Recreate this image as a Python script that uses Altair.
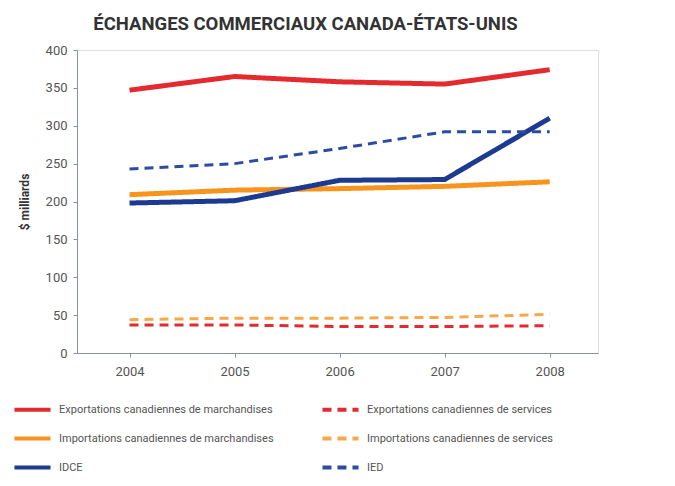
import altair as alt
import pandas as pd

years = [2004, 2005, 2006, 2007, 2008]
series_names = [
    "Exportations canadiennes de marchandises",
    "Exportations canadiennes de services",
    "Importations canadiennes de marchandises",
    "Importations canadiennes de services",
    "IDCE",
    "IED",
]
export_merch = [347, 365, 358, 355, 374]
export_serv = [37, 37, 35, 35, 36]
import_merch = [209, 215, 217, 220, 226]
import_serv = [44, 46, 46, 47, 51]
idce = [198, 201, 228, 229, 310]
ied = [243, 250, 270, 292, 292]

colors = ["#e42a2e", "#e42a2e", "#f7941d", "#f7a94a", "#1d3a92", "#2c4ba3"]
dashes = [[1, 0], [9, 6], [1, 0], [9, 6], [1, 0], [9, 6]]
solid_set = {series_names[0], series_names[2], series_names[4]}

all_vals = [export_merch, export_serv, import_merch, import_serv, idce, ied]
rows = []
for name, vals in zip(series_names, all_vals):
    for y, v in zip(years, vals):
        rows.append({"serie": name, "annee": y, "valeur": v,
                     "solid": name in solid_set})
df = pd.DataFrame(rows)

FONT = "Roboto, Liberation Sans, sans-serif"

x = alt.X("annee:Q", scale=alt.Scale(domain=[2003.5, 2008.46], nice=False, zero=False),
          axis=alt.Axis(values=years, format="d", title=None, grid=False,
                        labelFontSize=13, labelColor="#555", labelPadding=8,
                        domainColor="#8a8fa8", tickColor="#8a8fa8", tickSize=4,
                        labelFont=FONT))
y = alt.Y("valeur:Q", scale=alt.Scale(domain=[0, 400], nice=False),
          axis=alt.Axis(values=list(range(0, 401, 50)), title="$ milliards", grid=False,
                        labelFontSize=13, labelColor="#555", labelPadding=6,
                        titleFontSize=12, titleColor="#333", titleFont=FONT,
                        titleFontWeight="bold", titlePadding=14,
                        domainColor="#8a8fa8", tickColor="#8a8fa8", tickSize=4,
                        labelFont=FONT))
color = alt.Color("serie:N", scale=alt.Scale(domain=series_names, range=colors),
                  legend=alt.Legend(title=None, orient="none", legendX=-65, legendY=339,
                                    direction="horizontal", columns=2,
                                    symbolType="stroke", symbolSize=1300,
                                    symbolStrokeWidth=4, labelFontSize=11,
                                    labelColor="#555", labelFont=FONT,
                                    columnPadding=40, rowPadding=0, symbolOffset=0,
                                    labelOffset=6, labelLimit=400))
dash = alt.StrokeDash("serie:N", scale=alt.Scale(domain=series_names, range=dashes))

base = alt.Chart(df).encode(x=x, y=y, color=color, strokeDash=dash)
solid = base.transform_filter("datum.solid").mark_line(strokeWidth=5, strokeJoin="round")
dashed = base.transform_filter("!datum.solid").mark_line(strokeWidth=3, strokeJoin="round")

chart = alt.layer(solid, dashed).properties(
    width=521, height=303,
    autosize=alt.AutoSizeParams(type="none"),
    padding={"left": 69, "top": 42, "right": 69, "bottom": 125},
    title=alt.TitleParams("ÉCHANGES COMMERCIAUX CANADA-ÉTATS-UNIS", anchor="middle",
                          frame="group", dx=-32, offset=11, fontSize=18.5, font=FONT,
                          fontWeight="bold", color="#333"),
).configure_view(strokeWidth=0).configure(background="white")

chart.save("out.html", embed_options={"renderer": "svg", "actions": False})
